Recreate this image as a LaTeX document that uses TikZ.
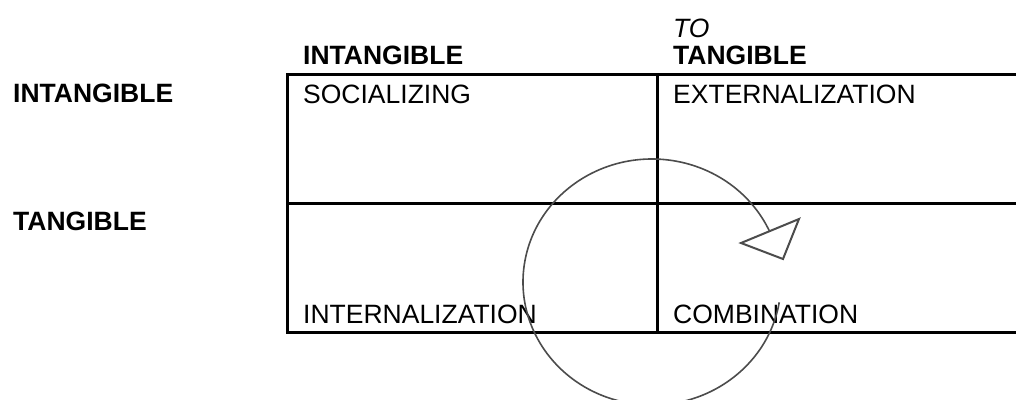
\documentclass[tikz,border=0pt]{standalone}
\usepackage{fontspec}
\setmainfont{Liberation Sans}
\begin{document}
\begin{tikzpicture}[x=1pt,y=-1pt,
  lbl/.style={inner sep=0pt,anchor=base west,font=\fontsize{26.5}{30}\selectfont},
  head/.style={lbl,font=\fontsize{26.5}{30}\selectfont\bfseries},
  gridline/.style={line width=3pt,black},
  cycle/.style={line width=1.6pt,black!70}]
\useasboundingbox[fill=white] (0,0) rectangle (1016,399);

% row and column headings
\node[head] (rowI) at (13,102) {INTANGIBLE};
\node[head] (rowT) at (13,230) {TANGIBLE};
\node[head] (colI) at (303,64) {INTANGIBLE};
\node[head] (colT) at (673,64) {TANGIBLE};
\node[lbl,font=\fontsize{26.5}{30}\selectfont\itshape] (to) at (673,37) {TO};

% the 2x2 matrix, open on the right
\coordinate (tl) at (287,74);
\coordinate (tr) at (1016,74);
\coordinate (ml) at (287,203);
\coordinate (mr) at (1016,203);
\coordinate (bl) at (287,332);
\coordinate (br) at (1016,332);
\coordinate (vt) at (657,74);
\coordinate (vb) at (657,332);
\draw[gridline] (tr) -- (tl) -- (bl) -- (br);
\draw[gridline] (ml) -- (mr);
\draw[gridline] (vt) -- (vb);

% quadrant names
\node[lbl] (soc) at (303,103) {SOCIALIZING};
\node[lbl] (ext) at (673,103) {EXTERNALIZATION};
\node[lbl] (int) at (303,323) {INTERNALIZATION};
\node[lbl] (com) at (673,323) {COMBINATION};

% knowledge cycle with an open arrowhead
\coordinate (c) at (652,282);
\draw[cycle] (c) ++(9.5:129 and 123)
  arc[start angle=9.5,end angle=335.4,x radius=129,y radius=123];
\coordinate (h1) at (741,243);
\coordinate (h2) at (799,219);
\coordinate (h3) at (783,259);
\draw[cycle,line width=2pt,line join=miter] (h1) -- (h2) -- (h3) -- cycle;
\end{tikzpicture}
\end{document}
